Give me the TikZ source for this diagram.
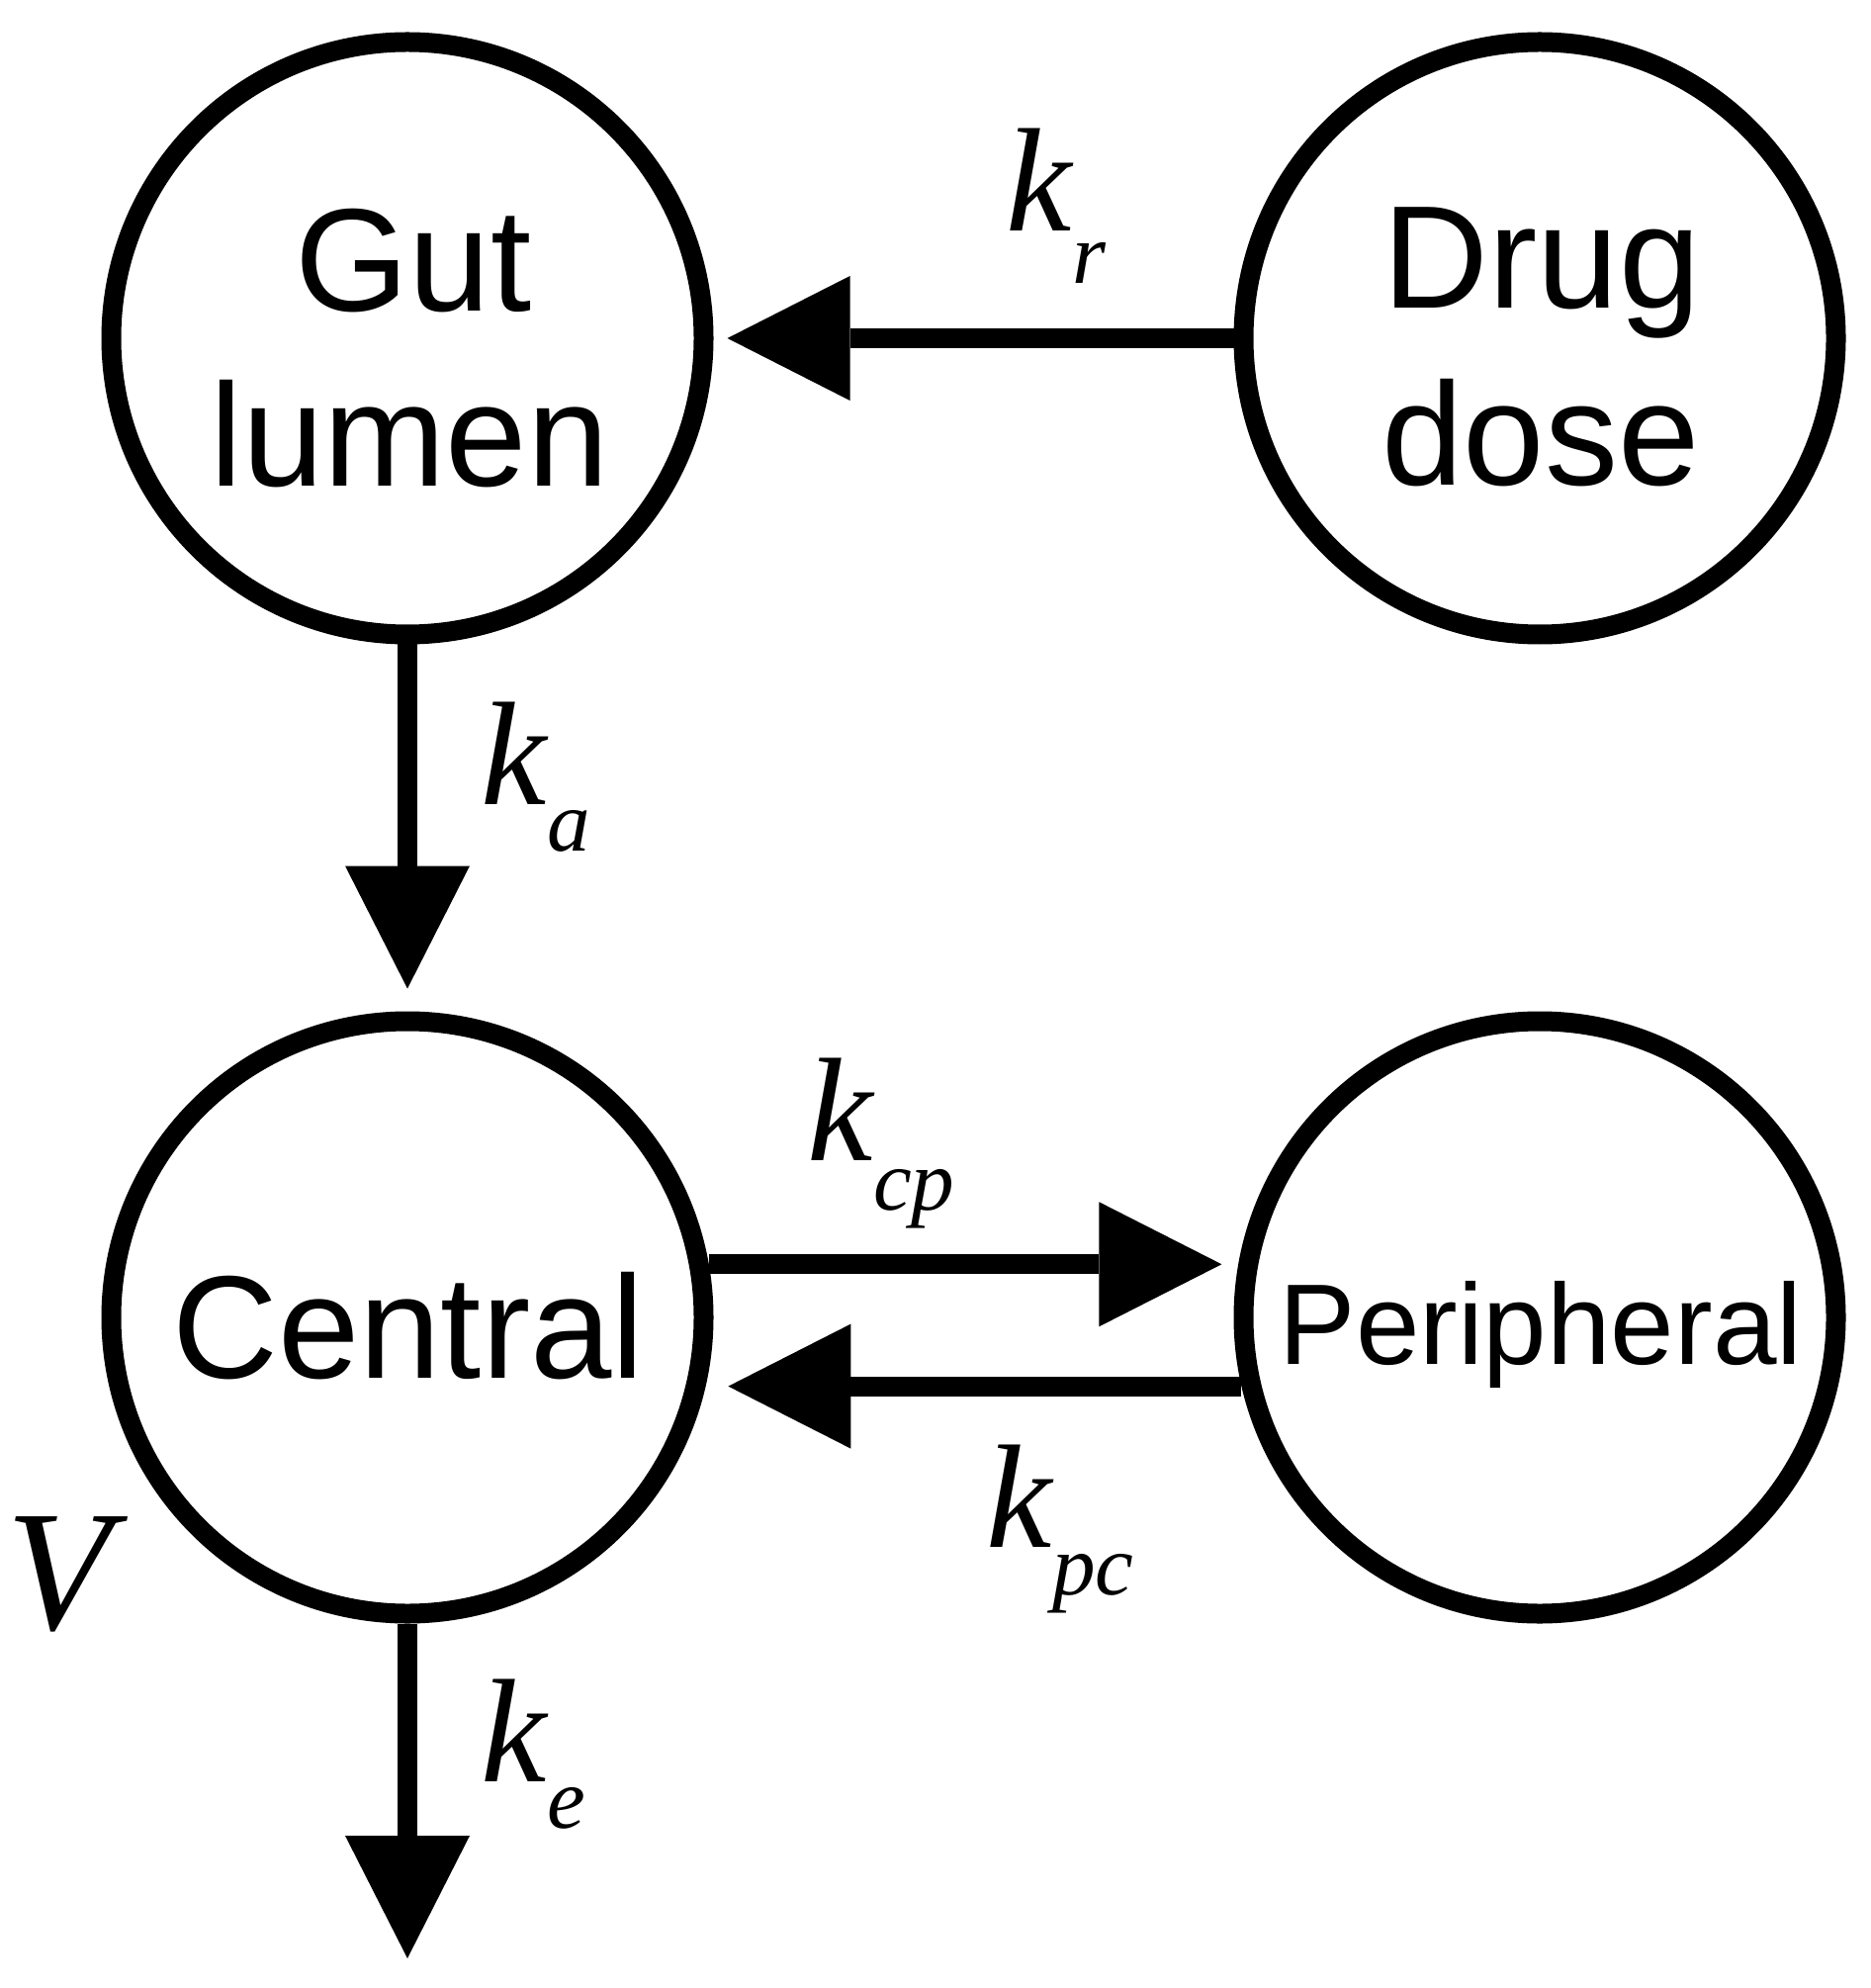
\documentclass[tikz,border=0pt]{standalone}
\usepackage{fontspec}
\setmainfont{Liberation Sans}
\newfontfamily\serifrm{Liberation Serif}
\usetikzlibrary{arrows.meta}
\newcommand{\klab}[2]{{\serifrm\itshape\fontsize{37.3}{40}\selectfont k}\raisebox{-#2}{\serifrm\itshape\fontsize{21.8}{24}\selectfont #1}}
\tikzset{
  circ/.style={circle, draw, line width=5pt, minimum size=149.75pt, inner sep=0pt},
  arr/.style={line width=5pt, -{Triangle[length=31pt, width=31.5pt, line width=0pt]}},
  big/.style={inner sep=0pt, anchor=base, font=\fontsize{37}{44}\selectfont},
  rate/.style={inner sep=0pt, anchor=base west},
}
\begin{document}
\begin{tikzpicture}[x=0.25pt, y=-0.25pt]
\fill[white] (0,0) rectangle (1892,2010);
\useasboundingbox (0,0) rectangle (1892,2010);

\node[circ] (gut) at (412,342) {};
\node[circ] (drug) at (1557,342) {};
\node[circ] (central) at (412,1332) {};
\node[circ] (periph) at (1557,1332) {};

\node[big] (t1) at (418,315) {Gut};
\node[big] (t2) at (414,492) {lumen};
\node[big] (t3) at (1559,312) {Drug};
\node[big] (t4) at (1558,491) {dose};
\node[big] (t5) at (413,1393) {Central};
\node[big, font=\fontsize{29}{34}\selectfont] (t6) at (1558,1379) {Peripheral};

\coordinate (out) at (412,1980);

\draw[arr, shorten >=3.5pt] (drug.west) -- (gut.east);
\draw[arr, shorten >=5.75pt] (gut.south) -- (central.north);
\draw[arr, shorten >=4.2pt] (central.10) -- (periph.170);
\draw[arr, shorten >=5.7pt] (periph.193) -- (central.-13);
\draw[arr] (central.south) -- (out);

\node[rate] (kr) at (1017,234) {\klab{r}{13.25pt}};
\node[rate] (ka) at (486,813) {\klab{a}{11.75pt}};
\node[rate] (kcp) at (816,1173) {\klab{cp}{12.5pt}};
\node[rate] (kpc) at (997,1564) {\klab{pc}{12pt}};
\node[rate] (ke) at (486,1801) {\klab{e}{11.75pt}};
\node[rate] (V) at (6,1647) {\serifrm\itshape\fontsize{43.5}{46}\selectfont V};
\end{tikzpicture}
\end{document}
